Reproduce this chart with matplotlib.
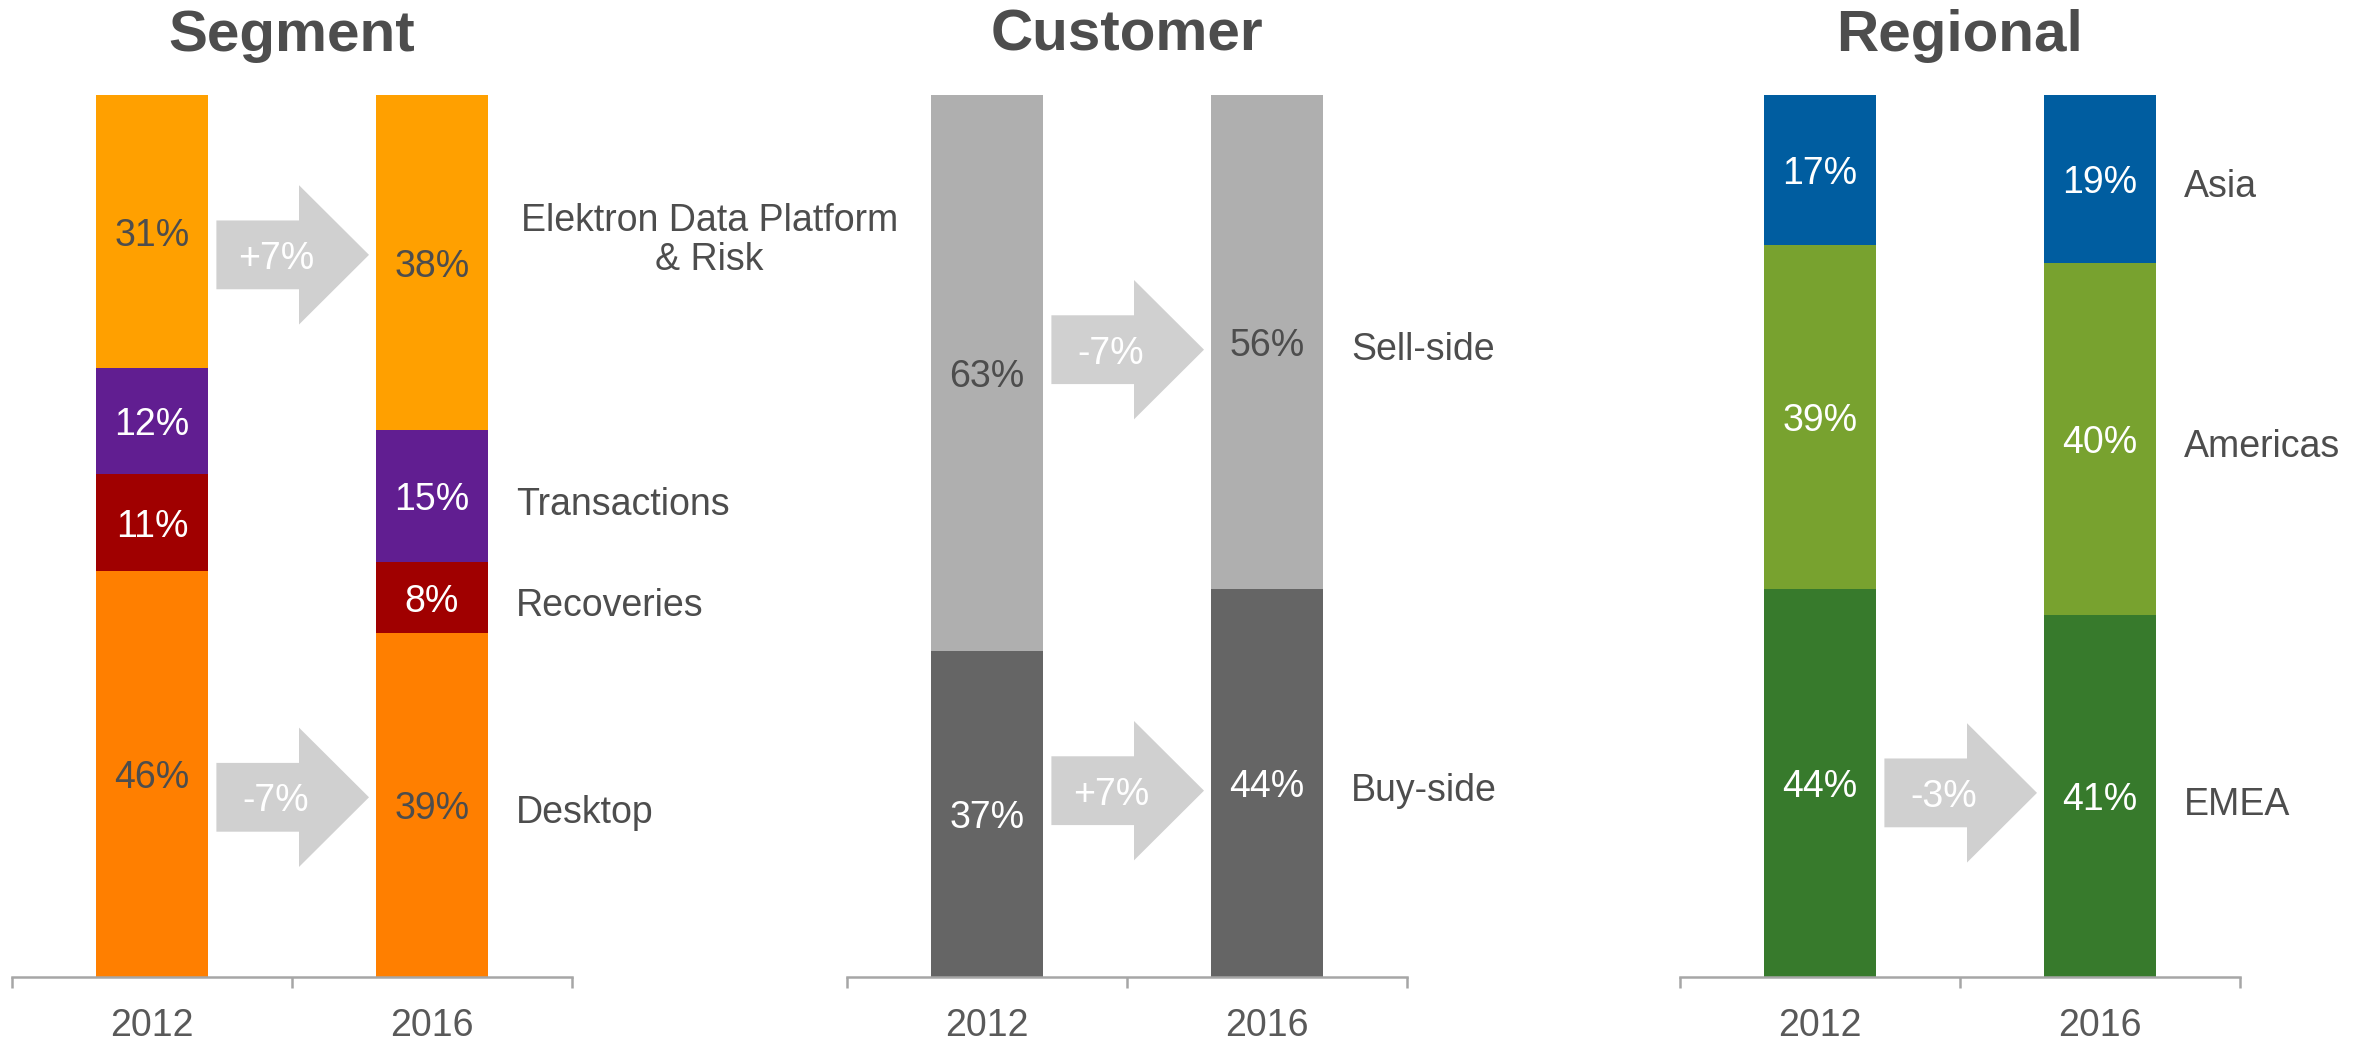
import numpy as np
import matplotlib.pyplot as plt
from matplotlib.patches import FancyArrow

plt.rcParams['font.family'] = ['Liberation Sans', 'DejaVu Sans']

# ------------------------------
# Data (stacks listed bottom -> top)
years = ['2012', '2016']

seg_names = ['Desktop', 'Recoveries', 'Transactions', 'Elektron Data Platform\n& Risk']
seg_2012 = [46, 11, 12, 31]
seg_2016 = [39, 8, 15, 38]

cust_names = ['Buy-side', 'Sell-side']
cust_2012 = [37, 63]
cust_2016 = [44, 56]

reg_names = ['EMEA', 'Americas', 'Asia']
reg_2012 = [44, 39, 17]
reg_2016 = [41, 40, 19]

# ------------------------------
# Styles
dark = '#4D4D4D'
arrow_col = '#D0D0D0'
axis_col = '#A6A6A6'

panels = [
    dict(title='Segment', names=seg_names, v0=seg_2012, v1=seg_2016,
         colors=['#FF7F00', '#A00000', '#611E91', '#FFA000'],
         txt=[dark, 'white', 'white', dark], arrows=[0, 3]),
    dict(title='Customer', names=cust_names, v0=cust_2012, v1=cust_2016,
         colors=['#656565', '#AFAFAF'],
         txt=['white', dark], arrows=[0, 1]),
    dict(title='Regional', names=reg_names, v0=reg_2012, v1=reg_2016,
         colors=['#377A2C', '#78A22F', '#005DA0'],
         txt=['white', 'white', 'white'], arrows=[0]),
]

W, H = 2371, 1040
fig = plt.figure(figsize=(W / 100, H / 100), dpi=100)

ax_bottom = 1 - 977 / H
ax_height = (977 - 95) / H
lefts = [12, 847, 1680]
bw = 0.4

for p, left in zip(panels, lefts):
    ax = fig.add_axes([left / W, ax_bottom, 560 / W, ax_height])
    ax.set_facecolor('none')
    ax.set_xlim(-0.5, 1.5)
    ax.set_ylim(0, 100)

    centers = []
    for xi, vals in enumerate([p['v0'], p['v1']]):
        vals = np.array(vals)
        bottoms = np.concatenate([[0], np.cumsum(vals)[:-1]])
        ax.bar(np.full(len(vals), xi), vals, bw, bottom=bottoms,
               color=p['colors'], linewidth=0)
        mids = bottoms + vals / 2
        centers.append(mids)
        for m, v, c in zip(mids, vals, p['txt']):
            ax.text(xi, m, f'{v}%', ha='center', va='center_baseline',
                    fontsize=27, color=c)

    # category labels at the right of the 2016 bar
    for i, name in enumerate(p['names']):
        if '\n' in name:
            ax.text(1.99, centers[1][i] + 2.5, name, ha='center', va='center',
                    fontsize=27, color=dark, linespacing=1.12, clip_on=False)
        else:
            ax.text(1.3, centers[1][i] - 0.5, name, ha='left', va='center_baseline',
                    fontsize=27, color=dark, clip_on=False)

    # change arrows
    x0 = bw / 2 + 0.03
    x1 = 1 - bw / 2 - 0.025
    for i in p['arrows']:
        y = 0.25 * centers[0][i] + 0.75 * centers[1][i]
        ax.add_patch(FancyArrow(x0, y, x1 - x0, 0, width=7.8, head_width=15.8,
                                head_length=0.25, length_includes_head=True,
                                color=arrow_col, linewidth=0))
        d = p['v1'][i] - p['v0'][i]
        ax.text(x0 + 0.39 * (x1 - x0), y, f'{d:+d}%', ha='center',
                va='center_baseline', fontsize=27, color='white')

    ax.text(0.5, 1.05, p['title'], transform=ax.transAxes, ha='center',
            va='baseline', fontsize=42, fontweight='bold', color=dark)

    for s in ['top', 'left', 'right']:
        ax.spines[s].set_visible(False)
    ax.spines['bottom'].set_color(axis_col)
    ax.spines['bottom'].set_linewidth(1.8)
    ax.set_yticks([])
    ax.set_xticks([0, 1])
    ax.set_xticklabels(years, fontsize=27, color='#595959')
    ax.tick_params(axis='x', which='major', length=0, pad=22)
    ax.set_xticks([-0.5, 0.5, 1.5], minor=True)
    ax.tick_params(axis='x', which='minor', length=8, width=1.8, color=axis_col)

fig.savefig('out.png', dpi=100)
